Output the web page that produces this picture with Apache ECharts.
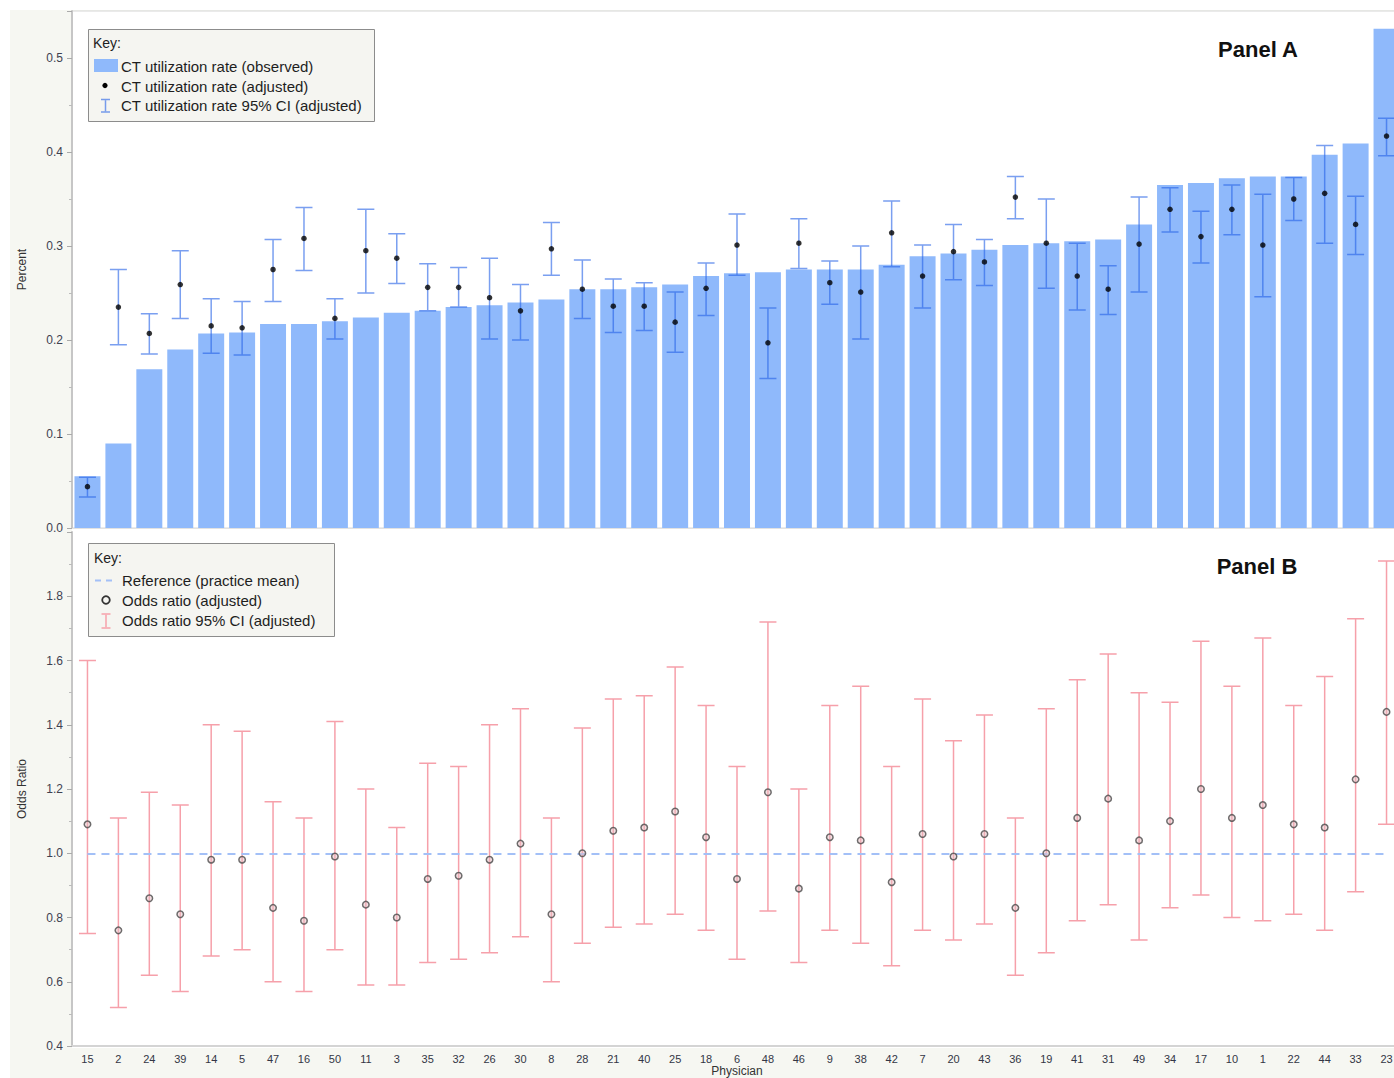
<!DOCTYPE html>
<html>
<head>
<meta charset="utf-8">
<script src="https://cdn.jsdelivr.net/npm/echarts@6/dist/echarts.min.js"></script>
<style>
  html, body { margin: 0; padding: 0; background: #fff; }
  #wrap { width: 1394px; height: 1078px; overflow: hidden; position: relative; }
  #chart { width: 1410px; height: 1078px; position: absolute; left: 0; top: 0; }
</style>
</head>
<body>
<div id="wrap"><div id="chart"></div></div>
<script>
// ---------------- DATA ----------------
const categories = ['15','2','24','39','14','5','47','16','50','11','3','35','32','26','30','8','28','21','40','25',
  '18','6','48','46','9','38','42','7','20','43','36','19','41','31','49','34','17','10','1','22','44','33','23'];

// Panel A: CT utilization rate
const observedRate = [0.055,0.090,0.169,0.190,0.207,0.208,0.217,0.217,0.220,0.224,0.229,0.231,0.235,0.237,0.240,
  0.243,0.254,0.254,0.256,0.259,0.268,0.271,0.272,0.275,0.275,0.275,0.280,0.289,0.292,0.296,0.301,0.303,0.305,
  0.307,0.323,0.365,0.367,0.372,0.374,0.374,0.397,0.409,0.531];
const adjustedRate = [0.044,0.235,0.207,0.259,0.215,0.213,0.275,0.308,0.223,0.295,0.287,0.256,0.256,0.245,0.231,
  0.297,0.254,0.236,0.236,0.219,0.255,0.301,0.197,0.303,0.261,0.251,0.314,0.268,0.294,0.283,0.352,0.303,0.268,
  0.254,0.302,0.339,0.310,0.339,0.301,0.350,0.356,0.323,0.417];
const adjustedRateLow = [0.033,0.195,0.185,0.223,0.186,0.184,0.241,0.274,0.201,0.250,0.260,0.231,0.235,0.201,0.200,
  0.269,0.223,0.208,0.210,0.187,0.226,0.269,0.159,0.276,0.238,0.201,0.278,0.234,0.264,0.258,0.329,0.255,0.232,
  0.227,0.251,0.315,0.282,0.312,0.246,0.327,0.303,0.291,0.396];
const adjustedRateHigh = [0.054,0.275,0.228,0.295,0.244,0.241,0.307,0.341,0.244,0.339,0.313,0.281,0.277,0.287,0.259,
  0.325,0.285,0.265,0.261,0.251,0.282,0.334,0.234,0.329,0.284,0.300,0.348,0.301,0.323,0.307,0.374,0.350,0.303,
  0.279,0.352,0.362,0.337,0.365,0.355,0.373,0.407,0.353,0.436];

// Panel B: odds ratio
const oddsRatio = [1.09,0.76,0.86,0.81,0.98,0.98,0.83,0.79,0.99,0.84,0.80,0.92,0.93,0.98,1.03,0.81,1.00,1.07,1.08,1.13,
  1.05,0.92,1.19,0.89,1.05,1.04,0.91,1.06,0.99,1.06,0.83,1.00,1.11,1.17,1.04,1.10,1.20,1.11,1.15,1.09,1.08,1.23,1.44];
const oddsRatioLow = [0.75,0.52,0.62,0.57,0.68,0.70,0.60,0.57,0.70,0.59,0.59,0.66,0.67,0.69,0.74,0.60,0.72,0.77,0.78,0.81,
  0.76,0.67,0.82,0.66,0.76,0.72,0.65,0.76,0.73,0.78,0.62,0.69,0.79,0.84,0.73,0.83,0.87,0.80,0.79,0.81,0.76,0.88,1.09];
const oddsRatioHigh = [1.60,1.11,1.19,1.15,1.40,1.38,1.16,1.11,1.41,1.20,1.08,1.28,1.27,1.40,1.45,1.11,1.39,1.48,1.49,1.58,
  1.46,1.27,1.72,1.20,1.46,1.52,1.27,1.48,1.35,1.43,1.11,1.45,1.54,1.62,1.50,1.47,1.66,1.52,1.67,1.46,1.55,1.73,1.91];
const referenceOdds = 1.0;

const rateTicks = { min: 0, max: 0.55, interval: 0.1 };
const oddsTicks = { min: 0.4, max: 2.0, interval: 0.2 };

// ---------------- STYLE ----------------
const FONT = '"Liberation Sans", Arial, Helvetica, sans-serif';
const barColor = '#8fb9fb';
const ciBlue = 'rgba(40,100,230,0.62)';
const ciPink = '#f6a0aa';
const refColor = '#a3c0f7';

function ciRender(color, capHalf) {
  return function (params, api) {
    const x = api.value(0);
    const lo = api.coord([x, api.value(1)]);
    const hi = api.coord([x, api.value(2)]);
    const d = 'M' + (hi[0] - capHalf) + ' ' + hi[1] + 'L' + (hi[0] + capHalf) + ' ' + hi[1] +
              'M' + hi[0] + ' ' + hi[1] + 'L' + lo[0] + ' ' + lo[1] +
              'M' + (lo[0] - capHalf) + ' ' + lo[1] + 'L' + (lo[0] + capHalf) + ' ' + lo[1];
    return { type: 'path', shape: { pathData: d }, style: { stroke: color, lineWidth: 1.5, fill: null } };
  };
}

const rateCI = categories.map((c, i) => [i, adjustedRateLow[i], adjustedRateHigh[i]]);
const oddsCI = categories.map((c, i) => [i, oddsRatioLow[i], oddsRatioHigh[i]]);

const yAxisCommon = {
  type: 'value',
  splitLine: { show: false },
  axisLine: { show: true, lineStyle: { color: '#c6c6c6', width: 2 } },
  axisTick: { show: true, length: 5, lineStyle: { color: '#aaaaaa' } },
  minorTick: { show: true, splitNumber: 2, length: 3, lineStyle: { color: '#bbbbbb' } },
  axisLabel: { color: '#3e4150', fontSize: 12, fontFamily: FONT, margin: 9, showMaxLabel: false,
               formatter: v => v.toFixed(1) },
  nameLocation: 'middle', nameRotate: 90, nameGap: 44,
  nameTextStyle: { color: '#333', fontSize: 12, fontFamily: FONT }
};

const txt = (text, x, y, size, weight) => ({
  type: 'text', z: 101,
  style: { text: text, x: x, y: y, fill: '#1e1e1e', font: (weight || 'normal') + ' ' + size + 'px ' + FONT,
           align: 'left', verticalAlign: 'middle' }
});
const seg = (x1, y1, x2, y2, stroke, w, dash) => ({
  type: 'line', z: 101, shape: { x1: x1, y1: y1, x2: x2, y2: y2 },
  style: { stroke: stroke, lineWidth: w, lineDash: dash || null }
});
const ciIcon = (cx, top, bottom, half, stroke) => [
  seg(cx - half, top, cx + half, top, stroke, 1.5),
  seg(cx, top + 0.75, cx, bottom - 0.75, stroke, 1.5),
  seg(cx - half, bottom, cx + half, bottom, stroke, 1.5)
];

const option = {
  backgroundColor: '#ffffff',
  animation: false,
  grid: [
    { left: 72, top: 11, width: 1330, height: 517, show: true, backgroundColor: '#ffffff',
      borderColor: '#d6d6d6', borderWidth: 1 },
    { left: 72, top: 532, width: 1330, height: 516, show: false }
  ],
  xAxis: [
    { type: 'category', gridIndex: 0, data: categories,
      axisLine: { show: true, lineStyle: { color: '#e2e2e2', width: 1 } },
      axisTick: { show: false }, axisLabel: { show: false } },
    { type: 'category', gridIndex: 1, data: categories,
      axisLine: { show: true, lineStyle: { color: '#d4d4d4', width: 2 } },
      axisTick: { show: false },
      axisLabel: { interval: 0, color: '#333645', fontSize: 11, fontFamily: FONT, margin: 7 },
      name: 'Physician', nameLocation: 'middle', nameGap: 19,
      nameTextStyle: { color: '#333', fontSize: 12, fontFamily: FONT } }
  ],
  yAxis: [
    Object.assign({}, yAxisCommon, { gridIndex: 0, name: 'Percent' }, rateTicks),
    Object.assign({}, yAxisCommon, { gridIndex: 1, name: 'Odds Ratio' }, oddsTicks)
  ],
  series: [
    { name: 'CT utilization rate (observed)', type: 'bar', xAxisIndex: 0, yAxisIndex: 0,
      data: observedRate, barCategoryGap: '16%', itemStyle: { color: barColor }, z: 2 },
    { name: 'CT utilization rate 95% CI (adjusted)', type: 'custom', xAxisIndex: 0, yAxisIndex: 0,
      data: rateCI, encode: { x: 0, y: [1, 2] }, renderItem: ciRender(ciBlue, 8.5), z: 3 },
    { name: 'CT utilization rate (adjusted)', type: 'scatter', xAxisIndex: 0, yAxisIndex: 0,
      data: adjustedRate, symbol: 'circle', symbolSize: 5.5, itemStyle: { color: '#000' }, z: 4 },

    { name: 'Odds ratio 95% CI (adjusted)', type: 'custom', xAxisIndex: 1, yAxisIndex: 1,
      data: oddsCI, encode: { x: 0, y: [1, 2] }, renderItem: ciRender(ciPink, 8.5), z: 3,
      markLine: { silent: true, symbol: 'none', label: { show: false },
        lineStyle: { color: refColor, type: [8, 6], width: 2.2 },
        data: [[ { coord: [categories[0], referenceOdds] },
                 { coord: [categories[categories.length - 1], referenceOdds] } ]] } },
    { name: 'Odds ratio (adjusted)', type: 'scatter', xAxisIndex: 1, yAxisIndex: 1,
      data: oddsRatio, symbol: 'circle', symbolSize: 6.5,
      itemStyle: { color: 'rgba(230,190,196,0.6)', borderColor: '#4a4a4a', borderWidth: 1.5 }, z: 5 }
  ],
  graphic: [
    // page backdrop
    { type: 'rect', z: -20, silent: true, shape: { x: 10, y: 10, width: 1400, height: 1068 }, style: { fill: '#f6f7f2' } },
    { type: 'rect', z: -19, silent: true, shape: { x: 72, y: 11, width: 1330, height: 1037 }, style: { fill: '#ffffff' } },

    // Panel labels
    { type: 'text', z: 101, style: { text: 'Panel A', x: 1258, y: 49, fill: '#111',
        font: 'bold 22px ' + FONT, align: 'center', verticalAlign: 'middle' } },
    { type: 'text', z: 101, style: { text: 'Panel B', x: 1257, y: 566, fill: '#111',
        font: 'bold 22px ' + FONT, align: 'center', verticalAlign: 'middle' } },

    // Key A
    { type: 'rect', z: 100, shape: { x: 88.5, y: 29.5, width: 286, height: 92 },
      style: { fill: '#f5f5f1', stroke: '#8c8c8c', lineWidth: 1 } },
    txt('Key:', 93, 43, 14),
    { type: 'rect', z: 101, shape: { x: 94, y: 59, width: 24, height: 13 }, style: { fill: barColor } },
    txt('CT utilization rate (observed)', 121, 66, 15),
    { type: 'circle', z: 101, shape: { cx: 105, cy: 85.5, r: 2.6 }, style: { fill: '#000' } },
    txt('CT utilization rate (adjusted)', 121, 86, 15),
    ...ciIcon(105.5, 99.5, 112, 4.5, ciBlue),
    txt('CT utilization rate 95% CI (adjusted)', 121, 105.5, 15),

    // Key B
    { type: 'rect', z: 100, shape: { x: 88.5, y: 543.5, width: 246, height: 93 },
      style: { fill: '#f5f5f1', stroke: '#8c8c8c', lineWidth: 1 } },
    txt('Key:', 94, 558, 14),
    seg(95, 580.5, 116, 580.5, refColor, 2, [6, 5]),
    txt('Reference (practice mean)', 122, 580.5, 15),
    { type: 'circle', z: 101, shape: { cx: 106, cy: 600, r: 3.8 }, style: { fill: 'none', stroke: '#333', lineWidth: 1.8 } },
    txt('Odds ratio (adjusted)', 122, 600.5, 15),
    ...ciIcon(106, 614, 628, 4.5, ciPink),
    txt('Odds ratio 95% CI (adjusted)', 122, 620.5, 15)
  ]
};

const chart = echarts.init(document.getElementById('chart'), null, { renderer: 'svg' });
chart.setOption(option);
</script>
</body>
</html>
